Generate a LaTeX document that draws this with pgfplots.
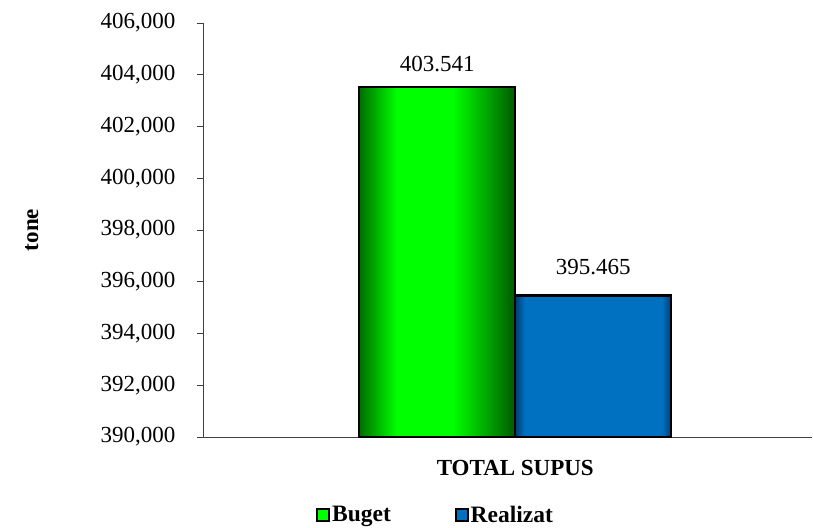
\documentclass[border=0pt]{standalone}
\usepackage{fontspec}
\setmainfont{Liberation Serif}
\usepackage{pgfplots}
\pgfplotsset{compat=1.18}

\definecolor{gbright}{RGB}{0,255,0}
\definecolor{gdark}{RGB}{0,110,0}
\definecolor{gdarker}{RGB}{0,90,0}
\definecolor{bmain}{RGB}{0,112,192}
\definecolor{bdark}{RGB}{0,62,115}

% the path's box is mapped onto 25bp..75bp of the shading
\pgfdeclarehorizontalshading{greenbar}{100bp}{color(0bp)=(gdark); color(25bp)=(gdark); color(37bp)=(gbright); color(55bp)=(gbright); color(75bp)=(gdarker); color(100bp)=(gdarker)}
\pgfdeclarehorizontalshading{bluebar}{100bp}{color(0bp)=(bdark); color(25bp)=(bdark); color(28bp)=(bmain); color(72bp)=(bmain); color(75bp)=(bdark); color(100bp)=(bdark)}

\begin{document}
\begin{tikzpicture}[font=\fontsize{23}{27}\selectfont]
\useasboundingbox (0,0) rectangle (813pt,527pt);
\begin{axis}[
    at={(203pt,90pt)}, anchor=south west,
    scale only axis, width=609pt, height=414pt,
    xmin=-1, xmax=0.95,
    ymin=390000, ymax=406000,
    enlargelimits=false,
    scaled y ticks=false,
    ytick={390000,392000,394000,396000,398000,400000,402000,404000,406000},
    yticklabels={{390,000},{392,000},{394,000},{396,000},{398,000},{400,000},{402,000},{404,000},{406,000}},
    yticklabel style={xshift=-18pt},
    xtick={0}, xticklabels={\textbf{TOTAL SUPUS}},
    xticklabel style={yshift=-14pt},
    xtick style={draw=none},
    axis x line=bottom, axis y line=left,
    axis line style={-, black!75, line width=0.8pt},
    tick align=outside, major tick length=6pt,
    ytick style={black!75, line width=0.8pt},
    every axis y label/.style={at={(axis description cs:-0.281,0.5)}, rotate=90, anchor=center},
    ylabel={\textbf{tone}},
    ybar, bar width=156pt,
    point meta=explicit symbolic,
    nodes near coords,
    legend style={at={(0.382,-0.188)}, anchor=center, draw=none, fill=none,
        legend columns=2, font=\fontsize{23.5}{28}\selectfont\bfseries,
        nodes={inner sep=2pt},
        /tikz/every even column/.append style={column sep=62pt}},
    legend cell align=left,
]
\addlegendimage{legend image code/.code={\draw[black, line width=1.8pt, fill=gbright] (0pt,-6pt) rectangle (12pt,6pt);}}
\addlegendentry{Buget}
\addlegendimage{legend image code/.code={\draw[black, line width=1.8pt, fill=bmain] (0pt,-6pt) rectangle (12pt,6pt);}}
\addlegendentry{Realizat}

\addplot[forget plot, bar shift=-78pt, draw=black, line width=2.2pt, shading=greenbar,
    nodes near coords style={yshift=10pt}] coordinates {(0,403541) [403.541]};
\addplot[forget plot, bar shift=78pt, draw=black, line width=2.2pt, shading=bluebar,
    nodes near coords style={yshift=16pt}] coordinates {(0,395465) [395.465]};
\end{axis}
\end{tikzpicture}
\end{document}
